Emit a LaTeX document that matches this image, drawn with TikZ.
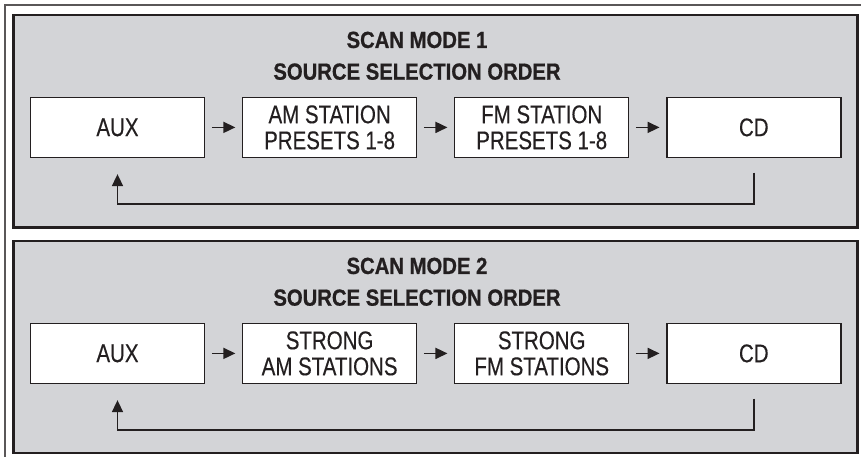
\documentclass[tikz,border=0pt]{standalone}
\usepackage{fontspec}
\setmainfont{Liberation Sans}
\newfontfamily\boxfont{Liberation Sans}[FakeStretch=0.80, FakeBold=0.3]
\newfontfamily\titlefont{Liberation Sans}[FakeStretch=0.87, BoldFeatures={FakeBold=0.8}]
\usetikzlibrary{arrows.meta}
\definecolor{panelgray}{RGB}{211,212,215}
\definecolor{ink}{RGB}{35,31,32}
\tikzset{
  panel/.style={draw=ink, line width=2.8pt, fill=panelgray},
  frame/.style={draw=ink!75, line width=1.6pt},
  srcbox/.style={draw=ink, line width=1.5pt, fill=white, minimum width=174pt, minimum height=60pt,
    inner sep=0pt, align=center, text=ink, font=\boxfont\fontsize{25.6}{26}\selectfont},
  heading/.style={align=center, text=ink, inner sep=0pt, font=\titlefont\bfseries\fontsize{23.3}{31.7}\selectfont},
  flow/.style={draw=ink, line width=1.7pt, -{Triangle[length=12pt,width=11pt]}},
}
\begin{document}
\begin{tikzpicture}[x=1pt,y=-1pt]
\useasboundingbox (0,0) rectangle (861,457);
\fill[white] (0,0) rectangle (861,457);
\draw[frame] (5,5) rectangle (900,500);
% panel 1
\draw[panel] (13.7,15) rectangle (857.3,227.7);
\node[heading] (t1) at (417,55.8) {SCAN MODE 1\\SOURCE SELECTION ORDER};
\node[srcbox] (aux1) at (117.5,127.4) {AUX};
\node[srcbox] (am1) at (329.6,127.4) {AM STATION\\PRESETS 1-8};
\node[srcbox] (fm1) at (541.7,127.4) {FM STATION\\PRESETS 1-8};
\node[srcbox] (cd1) at (753.8,127.4) {CD};
\draw[flow, shorten <=6.5pt, shorten >=6.5pt] (aux1) -- (am1);
\draw[flow, shorten <=6.5pt, shorten >=6.5pt] (am1) -- (fm1);
\draw[flow, shorten <=6.5pt, shorten >=6.5pt] (fm1) -- (cd1);
\draw[flow] ([yshift=-14.5pt]cd1.south) -- ++(0,31) -| ([yshift=-16pt]aux1.south);
% panel 2
\draw[panel] (13.7,241) rectangle (857.3,453);
\node[heading] (t2) at (417,281.8) {SCAN MODE 2\\SOURCE SELECTION ORDER};
\node[srcbox] (aux2) at (117.5,353.4) {AUX};
\node[srcbox] (am2) at (329.6,353.4) {STRONG\\AM STATIONS};
\node[srcbox] (fm2) at (541.7,353.4) {STRONG\\FM STATIONS};
\node[srcbox] (cd2) at (753.8,353.4) {CD};
\draw[flow, shorten <=6.5pt, shorten >=6.5pt] (aux2) -- (am2);
\draw[flow, shorten <=6.5pt, shorten >=6.5pt] (am2) -- (fm2);
\draw[flow, shorten <=6.5pt, shorten >=6.5pt] (fm2) -- (cd2);
\draw[flow] ([yshift=-14.5pt]cd2.south) -- ++(0,31) -| ([yshift=-16pt]aux2.south);
\end{tikzpicture}
\end{document}
